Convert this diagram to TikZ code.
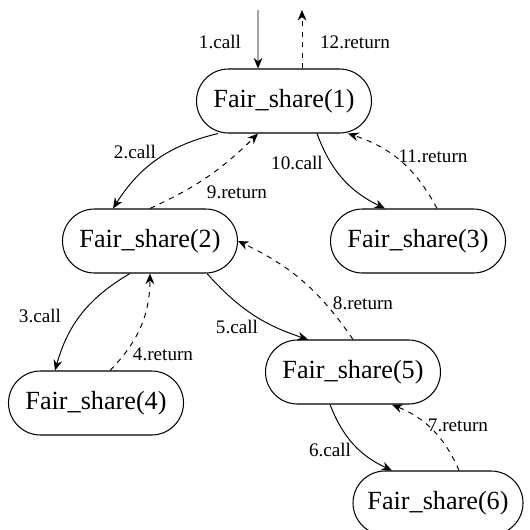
\documentclass[tikz,border=0pt]{standalone}
\usepackage{fontspec}
\setmainfont{Liberation Serif}
\usetikzlibrary{shapes.misc,arrows.meta}

\begin{document}
\begin{tikzpicture}[
    call/.style={rounded rectangle, draw, line width=0.6pt, minimum width=3.5cm,
      minimum height=1.28cm, inner sep=0pt, font=\fontsize{14.9}{17}\selectfont},
    calls/.style={-{Stealth[length=6pt,width=5pt]}, line width=0.55pt, bend right=22},
    rets/.style={calls, dashed},
    lab/.style={font=\fontsize{10.9}{13}\selectfont, inner sep=0pt}]
      \useasboundingbox (0,0) rectangle (10.6,10.58);
      % call tree
      \node[call] (f1) at (5.68,8.56) {Fair\_share(1)};
      \node[call] (f2) at (3.00,5.76) {Fair\_share(2)};
      \node[call] (f3) at (8.36,5.76) {Fair\_share(3)};
      \node[call] (f4) at (1.92,2.52) {Fair\_share(4)};
      \node[call] (f5) at (7.06,3.14) {Fair\_share(5)};
      \node[call, minimum width=3.4cm] (f6) at (8.76,0.52) {Fair\_share(6)};
      \coordinate (entry) at (5.16,10.38);
      \coordinate (exit) at (6.04,10.38);
      % calls and returns
      \draw[calls, bend right=0] (entry) -- ([xshift=-0.52cm]f1.north);
      \draw[rets] ([xshift=0.36cm]f1.north) -- (exit);
      \draw[calls] ([xshift=-1.32cm]f1.south) to ([xshift=-0.74cm]f2.north);
      \draw[rets, bend right=10] (f2.north) to ([xshift=-0.52cm]f1.south);
      \draw[calls] ([xshift=0.66cm]f1.south) to ([xshift=-0.66cm]f3.north);
      \draw[rets] ([xshift=0.38cm]f3.north) to ([xshift=1.28cm]f1.south);
      \draw[calls] ([xshift=-0.4cm]f2.south) to ([xshift=-0.82cm]f4.north);
      \draw[rets] ([xshift=0.28cm]f4.north) to (f2.south);
      \draw[calls, bend right=15] ([xshift=1.14cm]f2.south) to ([xshift=-0.9cm]f5.north);
      \draw[rets, bend right=15] (f5.north) to (f2.east);
      \draw[calls] ([xshift=-0.46cm]f5.south) to ([xshift=-0.92cm]f6.north);
      \draw[rets] ([xshift=0.42cm]f6.north) to ([xshift=0.78cm]f5.south);
      % labels
      \node[lab] (l1) at (4.40,9.74) {1.call};
      \node[lab] (l12) at (7.10,9.74) {12.return};
      \node[lab] (l2) at (2.70,7.54) {2.call};
      \node[lab] (l9) at (4.74,6.74) {9.return};
      \node[lab] (l10) at (5.94,7.32) {10.call};
      \node[lab] (l11) at (8.66,7.46) {11.return};
      \node[lab] (l3) at (0.80,4.26) {3.call};
      \node[lab] (l4) at (3.26,3.50) {4.return};
      \node[lab] (l5) at (4.74,4.04) {5.call};
      \node[lab] (l8) at (7.26,4.52) {8.return};
      \node[lab] (l6) at (6.60,1.58) {6.call};
      \node[lab] (l7) at (9.16,2.08) {7.return};
    \end{tikzpicture}
\end{document}
